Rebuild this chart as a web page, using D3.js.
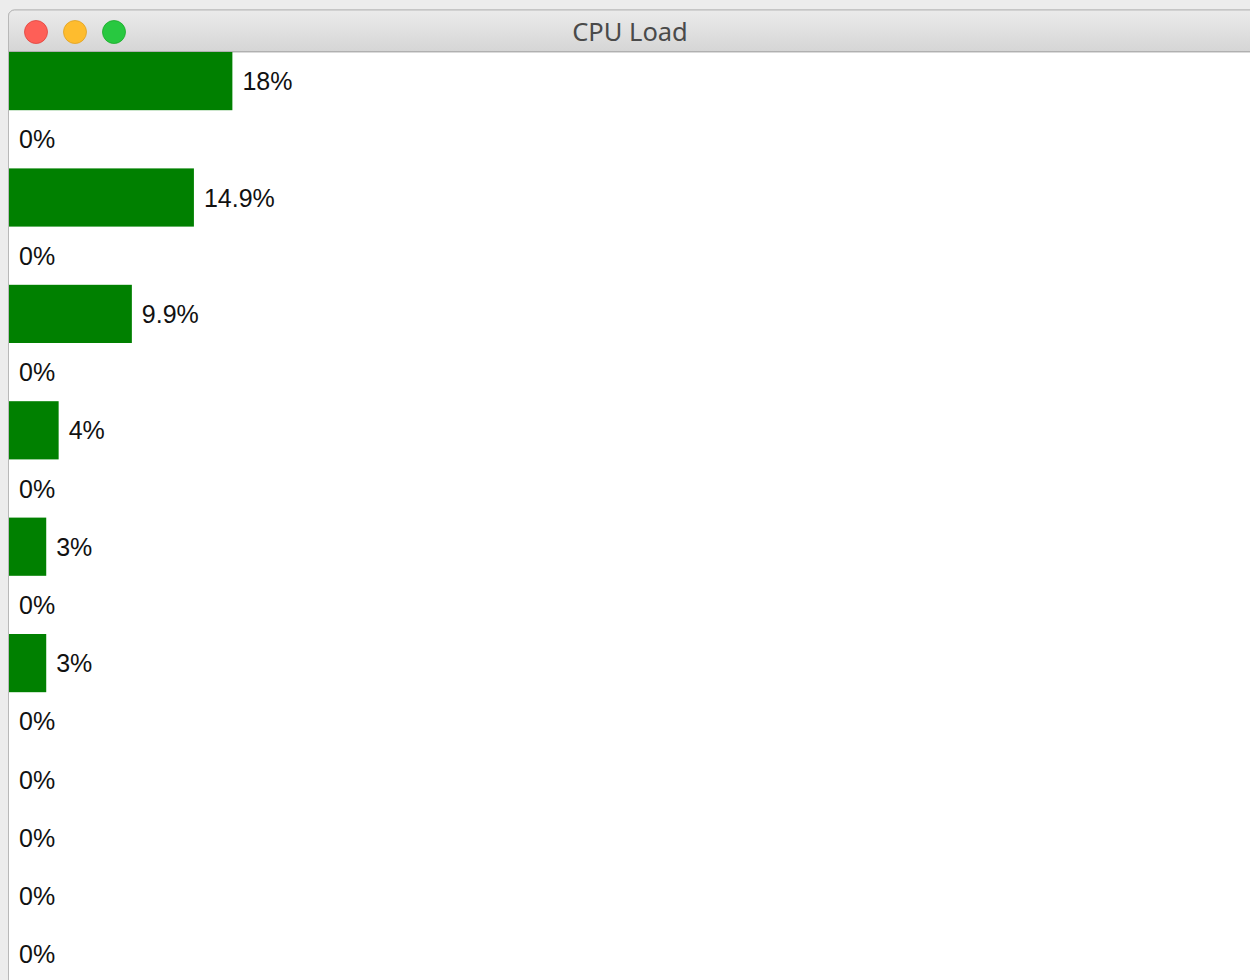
<!DOCTYPE html>
<html>
<head>
<meta charset="utf-8">
<script src="https://cdn.jsdelivr.net/npm/d3@7"></script>
<style>
  html, body { margin: 0; padding: 0; background: #ececec; }
  svg { display: block; }
</style>
</head>
<body>
<svg id="chart" width="1250" height="980"></svg>
<script>
// ---- data ----
const title = "CPU Load";
const cores = d3.range(16).map(i => "core" + i);
const loads = [18, 0, 14.9, 0, 9.9, 0, 4, 0, 3, 0, 3, 0, 0, 0, 0, 0];
const xDomain = [0, 100];

// ---- layout ----
const W = 1250, H = 980;
const win = { x: 8.5, y: 10, titleH: 42 };
const content = { left: 9, top: 52, width: W - 9, rowH: 58.2 };

const svg = d3.select("#chart");
const defs = svg.append("defs");
const grad = defs.append("linearGradient").attr("id", "tb").attr("x1", 0).attr("x2", 0).attr("y1", 0).attr("y2", 1);
grad.append("stop").attr("offset", "0%").attr("stop-color", "#ebebeb");
grad.append("stop").attr("offset", "100%").attr("stop-color", "#d5d5d5");

// window background
svg.append("rect").attr("x", win.x).attr("y", win.y).attr("width", W - win.x + 10).attr("height", H)
  .attr("rx", 6).attr("fill", "#ffffff").attr("stroke", "#b8b8b8").attr("stroke-width", 1);
// title bar
svg.append("path")
  .attr("d", `M${win.x},${win.y + 6} a6,6 0 0 1 6,-6 H${W + 10} V${content.top} H${win.x} Z`)
  .attr("fill", "url(#tb)").attr("stroke", "#b8b8b8").attr("stroke-width", 1);
svg.append("line").attr("x1", win.x).attr("x2", W).attr("y1", content.top - 0.5).attr("y2", content.top - 0.5)
  .attr("stroke", "#b0b0b0");
// traffic lights
const lights = [["#fe5f57", "#e0443e"], ["#febc2e", "#dea123"], ["#28c840", "#1aab29"]];
svg.selectAll("circle.tl").data(lights).join("circle").attr("class", "tl")
  .attr("cx", (d, i) => 36 + i * 39).attr("cy", 32).attr("r", 11.5)
  .attr("fill", d => d[0]).attr("stroke", d => d[1]).attr("stroke-width", 0.8);
svg.append("text").attr("x", 630).attr("y", 40.5).attr("text-anchor", "middle")
  .attr("font-family", "Noto Sans, Liberation Sans, sans-serif").attr("font-size", 25.5)
  .attr("fill", "#4a4a4a").text(title);

// ---- scales ----
const x = d3.scaleLinear().domain(xDomain).range([0, content.width]);
const y = d3.scaleBand().domain(cores).range([content.top, content.top + cores.length * content.rowH]).padding(0);

const g = svg.append("g").attr("transform", `translate(${content.left},0)`);
g.selectAll("rect.bar").data(loads).join("rect").attr("class", "bar")
  .attr("x", 0).attr("y", (d, i) => y(cores[i]))
  .attr("width", d => x(d)).attr("height", y.bandwidth())
  .attr("fill", "#008000");
g.selectAll("text.lbl").data(loads).join("text").attr("class", "lbl")
  .attr("x", d => x(d) + 10)
  .attr("y", (d, i) => y(cores[i]) + y.bandwidth() / 2)
  .attr("dy", "0.36em")
  .attr("font-family", "Liberation Sans, Arial, sans-serif").attr("font-size", 25)
  .attr("fill", "#111").text(d => d + "%");
</script>
</body>
</html>
